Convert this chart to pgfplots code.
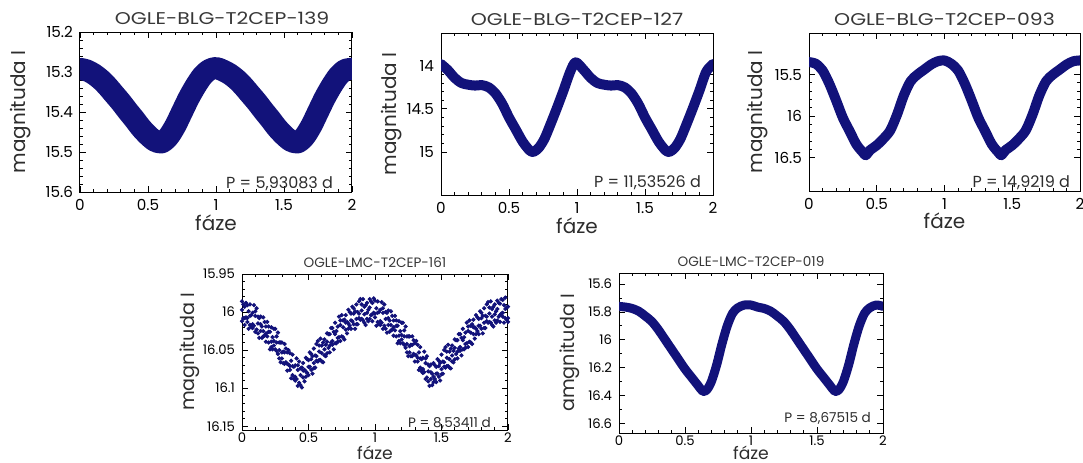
\documentclass[border=0pt]{standalone}
\usepackage{pgfplots}
\pgfplotsset{compat=1.18}
\usepackage{pgfplotstable}
\usepackage{fontspec}
\setmainfont{Poppins}
\newfontfamily\widetitle{Poppins}[FakeStretch=1.2]
\definecolor{navy}{RGB}{18,18,122}
\definecolor{titlegray}{RGB}{55,55,55}
\definecolor{labelgray}{RGB}{45,45,45}

\pgfplotsset{
  panel/.style={
    scale only axis, anchor=south west,
    xmin=0, xmax=2, xtick={0,0.5,1,1.5,2}, minor x tick num=4,
    y dir=reverse, tick align=inside,
    major tick length=3pt, minor tick length=1.6pt,
    every tick/.append style={line width=0.4pt, black},
    axis line style={line width=0.5pt},
    /pgf/number format/assume math mode=true,
    /pgf/number format/fixed,
    /pgf/number format/precision=2,
    xlabel={fáze}, ylabel={magnituda I},
    label style={text=labelgray},
  },
  upper/.style={
    panel,
    every axis title/.style={at={(axis description cs:0.5,1)}, anchor=base, yshift=4pt, text=titlegray, font=\widetitle\fontsize{8.5}{9}\selectfont},
    tick label style={font=\fontsize{7.6}{8}\selectfont},
    label style={font=\fontsize{10}{11}\selectfont},
    xlabel style={at={(axis description cs:0.5,-0.19)}, anchor=center},
  },
  lower/.style={
    panel,
    every axis title/.style={at={(axis description cs:0.5,1)}, anchor=base, yshift=3.5pt, text=titlegray, font=\fontsize{6.8}{7}\selectfont},
    tick label style={font=\fontsize{6.6}{7}\selectfont},
    xticklabel style={inner sep=1.2pt},
    ylabel style={font=\fontsize{9.6}{10}\selectfont},
    xlabel style={font=\fontsize{8.6}{10}\selectfont},
  },
  band/.style={navy, line width=#1, line join=round, line cap=round, smooth},
  dots/.style={only marks, mark=*, mark size=0.85pt, navy},
}

\pgfplotstableread{
x a b c
0.00 16.012 15.997 15.986
0.02 15.993 16.008 16.017
0.04 16.008 15.991 16.013
0.06 15.990 16.017 16.005
0.08 16.016 16.001 16.021
0.10 16.005 16.026 15.999
0.12 16.028 16.015 16.006
0.14 16.006 16.016 16.025
0.16 16.025 16.032 16.007
0.18 16.019 16.039 16.028
0.20 16.040 16.019 16.026
0.22 16.020 16.039 16.046
0.24 16.044 16.022 16.038
0.26 16.040 16.051 16.032
0.28 16.061 16.040 16.050
0.30 16.040 16.053 16.061
0.32 16.068 16.053 16.042
0.34 16.053 16.068 16.077
0.36 16.071 16.054 16.076
0.38 16.056 16.083 16.071
0.40 16.085 16.070 16.090
0.42 16.076 16.097 16.070
0.44 16.096 16.083 16.074
0.46 16.067 16.077 16.086
0.48 16.078 16.085 16.060
0.50 16.063 16.083 16.072
0.52 16.076 16.055 16.062
0.54 16.048 16.067 16.074
0.56 16.064 16.042 16.058
0.58 16.052 16.063 16.044
0.60 16.065 16.044 16.054
0.62 16.036 16.049 16.057
0.64 16.054 16.039 16.028
0.66 16.029 16.044 16.053
0.68 16.038 16.021 16.043
0.70 16.014 16.041 16.029
0.72 16.034 16.019 16.039
0.74 16.017 16.038 16.011
0.76 16.033 16.020 16.011
0.78 16.004 16.014 16.023
0.80 16.015 16.022 15.997
0.82 16.002 16.022 16.011
0.84 16.016 15.995 16.002
0.86 15.990 16.009 16.016
0.88 16.008 15.986 16.002
0.90 15.998 16.009 15.990
0.92 16.014 15.993 16.003
0.94 15.988 16.001 16.009
0.96 16.009 15.994 15.983
0.98 15.988 16.003 16.012
1.00 16.002 15.985 16.007
1.02 15.986 16.013 16.001
1.04 16.012 15.997 16.017
1.06 16.001 16.022 15.995
1.08 16.022 16.009 16.000
1.10 15.998 16.008 16.017
1.12 16.017 16.024 15.999
1.14 16.011 16.031 16.020
1.16 16.032 16.011 16.018
1.18 16.012 16.031 16.038
1.20 16.036 16.014 16.030
1.22 16.032 16.043 16.024
1.24 16.053 16.032 16.042
1.26 16.032 16.045 16.053
1.28 16.058 16.043 16.032
1.30 16.041 16.056 16.065
1.32 16.060 16.043 16.065
1.34 16.046 16.073 16.061
1.36 16.075 16.060 16.080
1.38 16.067 16.088 16.061
1.40 16.091 16.078 16.069
1.42 16.069 16.079 16.088
1.44 16.085 16.092 16.067
1.46 16.072 16.092 16.081
1.48 16.085 16.064 16.071
1.50 16.056 16.075 16.082
1.52 16.072 16.050 16.066
1.54 16.060 16.071 16.052
1.56 16.073 16.052 16.062
1.58 16.044 16.057 16.065
1.60 16.062 16.047 16.036
1.62 16.037 16.052 16.061
1.64 16.046 16.029 16.051
1.66 16.022 16.049 16.037
1.68 16.042 16.027 16.047
1.70 16.025 16.046 16.019
1.72 16.040 16.027 16.018
1.74 16.010 16.020 16.029
1.76 16.022 16.029 16.004
1.78 16.009 16.029 16.018
1.80 16.022 16.001 16.008
1.82 15.995 16.014 16.021
1.84 16.012 15.990 16.006
1.86 16.002 16.013 15.994
1.88 16.017 15.996 16.006
1.90 15.990 16.003 16.011
1.92 16.011 15.996 15.985
1.94 15.989 16.004 16.013
1.96 16.001 15.984 16.006
1.98 15.981 16.008 15.996
2.00 16.008 15.993 16.013
}\tblD

\pgfplotstableread{
x d e
0.01 16.008 15.990
0.03 15.988 16.007
0.05 16.022 15.999
0.07 16.004 16.020
0.09 15.991 16.018
0.11 16.023 15.995
0.13 16.008 16.034
0.15 16.034 16.019
0.17 16.031 16.013
0.19 16.013 16.032
0.21 16.049 16.026
0.23 16.033 16.049
0.25 16.022 16.049
0.27 16.055 16.027
0.29 16.040 16.066
0.31 16.067 16.052
0.33 16.066 16.048
0.35 16.050 16.069
0.37 16.087 16.064
0.39 16.072 16.088
0.41 16.061 16.088
0.43 16.093 16.065
0.45 16.073 16.099
0.47 16.091 16.076
0.49 16.080 16.062
0.51 16.053 16.072
0.53 16.081 16.058
0.55 16.057 16.073
0.57 16.038 16.065
0.59 16.063 16.035
0.61 16.040 16.066
0.63 16.058 16.043
0.65 16.047 16.029
0.67 16.021 16.040
0.69 16.049 16.026
0.71 16.025 16.041
0.73 16.006 16.033
0.75 16.032 16.004
0.77 16.010 16.036
0.79 16.028 16.013
0.81 16.018 16.000
0.83 15.993 16.012
0.85 16.022 15.999
0.87 16.000 16.016
0.89 15.983 16.010
0.91 16.011 15.983
0.93 15.991 16.017
0.95 16.012 15.997
0.97 16.004 15.986
0.99 15.982 16.001
1.01 16.018 15.995
1.03 16.000 16.016
1.05 15.987 16.014
1.07 16.018 15.990
1.09 16.001 16.027
1.11 16.026 16.011
1.13 16.023 16.005
1.15 16.005 16.024
1.17 16.041 16.018
1.19 16.025 16.041
1.21 16.014 16.041
1.23 16.047 16.019
1.25 16.032 16.058
1.27 16.058 16.043
1.29 16.055 16.037
1.31 16.038 16.057
1.33 16.076 16.053
1.35 16.062 16.078
1.37 16.052 16.079
1.39 16.086 16.058
1.41 16.071 16.097
1.43 16.096 16.081
1.45 16.088 16.070
1.47 16.062 16.081
1.49 16.090 16.067
1.51 16.065 16.081
1.53 16.046 16.073
1.55 16.071 16.043
1.57 16.048 16.074
1.59 16.066 16.051
1.61 16.055 16.037
1.63 16.029 16.048
1.65 16.057 16.034
1.67 16.033 16.049
1.69 16.014 16.041
1.71 16.039 16.011
1.73 16.016 16.042
1.75 16.035 16.020
1.77 16.025 16.007
1.79 15.999 16.018
1.81 16.028 16.005
1.83 16.005 16.021
1.85 15.987 16.014
1.87 16.014 15.986
1.89 15.993 16.019
1.91 16.014 15.999
1.93 16.006 15.988
1.95 15.983 16.002
1.97 16.014 15.991
1.99 15.994 16.010
}\tblE

\begin{document}
\begin{tikzpicture}
\useasboundingbox (0,0) rectangle (541.5pt,231pt);

% Panel 1
\begin{axis}[upper, at={(40pt,135pt)}, width=136pt, height=80pt,
  ymin=15.2, ymax=15.6, ytick={15.2,15.3,15.4,15.5,15.6}, minor y tick num=4,
  title={OGLE-BLG-T2CEP-139}, title style={xshift=3pt},
  ylabel style={at={(axis description cs:-0.22,0.5)}, anchor=center}]
\addplot[band=11pt] coordinates {
(0,15.292)(0.05,15.296)(0.1,15.305)(0.15,15.318)(0.2,15.335)(0.25,15.355)(0.3,15.375)(0.35,15.397)(0.4,15.418)(0.45,15.44)(0.5,15.458)(0.55,15.472)(0.6,15.476)(0.65,15.462)(0.7,15.435)(0.75,15.4)(0.8,15.365)(0.85,15.335)(0.9,15.31)(0.95,15.295)(1.0,15.29)
(1.05,15.296)(1.1,15.305)(1.15,15.318)(1.2,15.335)(1.25,15.355)(1.3,15.375)(1.35,15.397)(1.4,15.418)(1.45,15.44)(1.5,15.458)(1.55,15.472)(1.6,15.476)(1.65,15.462)(1.7,15.435)(1.75,15.4)(1.8,15.365)(1.85,15.335)(1.9,15.31)(1.95,15.295)(2.0,15.292)};
\node[anchor=base east, xshift=-6pt, yshift=2pt, font=\fontsize{8}{9}\selectfont, text=labelgray] at (axis description cs:1,0) {P = 5,93083 d};
\end{axis}

% Panel 2
\begin{axis}[upper, at={(220.5pt,133.5pt)}, width=136pt, height=81pt,
  ymin=13.62, ymax=15.5, ytick={14,14.5,15}, minor y tick num=4,
  title={OGLE-BLG-T2CEP-127},
  ylabel style={at={(axis description cs:-0.18,0.5)}, anchor=center}]
\addplot[band=5pt] coordinates {
(0,13.98)(0.05,14.05)(0.1,14.14)(0.15,14.2)(0.2,14.22)(0.25,14.23)(0.3,14.225)(0.35,14.25)(0.4,14.32)(0.45,14.44)(0.5,14.6)(0.55,14.74)(0.6,14.88)(0.65,14.98)(0.68,15.0)(0.72,14.95)(0.76,14.85)(0.8,14.7)(0.85,14.5)(0.9,14.29)(0.95,14.07)(0.99,13.96)
(1.05,14.05)(1.1,14.14)(1.15,14.2)(1.2,14.22)(1.25,14.23)(1.3,14.225)(1.35,14.25)(1.4,14.32)(1.45,14.44)(1.5,14.6)(1.55,14.74)(1.6,14.88)(1.65,14.98)(1.68,15.0)(1.72,14.95)(1.76,14.85)(1.8,14.7)(1.85,14.5)(1.9,14.29)(1.95,14.07)(2.0,13.98)};
\node[anchor=base east, xshift=-2.5pt, yshift=4pt, font=\fontsize{8}{9}\selectfont, text=labelgray] at (axis description cs:1,0) {P = 11,53526 d};
\end{axis}

% Panel 3
\begin{axis}[upper, at={(404.5pt,135.5pt)}, width=135.5pt, height=79pt,
  ymin=15.0, ymax=16.9, ytick={15.5,16,16.5}, minor y tick num=4,
  title={OGLE-BLG-T2CEP-093},
  ylabel style={at={(axis description cs:-0.19,0.5)}, anchor=center}]
\addplot[band=5pt] coordinates {
(0,15.35)(0.05,15.37)(0.1,15.45)(0.15,15.61)(0.2,15.81)(0.25,16.02)(0.3,16.18)(0.35,16.34)(0.4,16.44)(0.42,16.47)(0.45,16.41)(0.5,16.35)(0.55,16.27)(0.6,16.17)(0.65,15.98)(0.7,15.75)(0.75,15.58)(0.8,15.5)(0.85,15.44)(0.9,15.38)(0.95,15.34)(1.0,15.33)
(1.05,15.37)(1.1,15.45)(1.15,15.61)(1.2,15.81)(1.25,16.02)(1.3,16.18)(1.35,16.34)(1.4,16.44)(1.42,16.47)(1.45,16.41)(1.5,16.35)(1.55,16.27)(1.6,16.17)(1.65,15.98)(1.7,15.75)(1.75,15.58)(1.8,15.5)(1.85,15.44)(1.9,15.38)(1.95,15.34)(2.0,15.33)};
\node[anchor=base east, xshift=-1.5pt, yshift=2pt, font=\fontsize{8}{9}\selectfont, text=labelgray] at (axis description cs:1,0) {P = 14,9219 d};
\end{axis}

% Panel 4
\begin{axis}[lower, at={(121pt,16pt)}, width=133pt, height=78pt,
  ymin=15.95, ymax=16.155, ytick={15.95,16,16.05,16.1,16.15}, minor y tick num=4,
  title={OGLE-LMC-T2CEP-161},
  xlabel style={at={(axis description cs:0.5,0)}, anchor=base, yshift=-14.5pt},
  ylabel style={at={(axis description cs:-0.195,0.5)}, anchor=center}]
\addplot[dots] table[x=x, y=a] {\tblD};
\addplot[dots] table[x=x, y=b] {\tblD};
\addplot[dots] table[x=x, y=c] {\tblD};
\addplot[dots] table[x=x, y=d] {\tblE};
\addplot[dots] table[x=x, y=e] {\tblE};
\node[anchor=base east, xshift=-5pt, yshift=1.5pt, font=\fontsize{6.8}{8}\selectfont, text=labelgray] at (axis description cs:1,0) {P = 8,53411 d};
\end{axis}

% Panel 5
\begin{axis}[lower, at={(309.5pt,14.5pt)}, width=132pt, height=80pt,
  ymin=15.52, ymax=16.67, ytick={15.6,15.8,16,16.2,16.4,16.6}, minor y tick num=1,
  title={OGLE-LMC-T2CEP-019}, ylabel={amgnituda I},
  xlabel style={at={(axis description cs:0.5,0)}, anchor=base, yshift=-13pt},
  ylabel style={at={(axis description cs:-0.186,0.5)}, anchor=center}]
\addplot[band=4.5pt] coordinates {
(0,15.76)(0.05,15.765)(0.1,15.775)(0.15,15.795)(0.2,15.83)(0.25,15.87)(0.3,15.93)(0.35,16.0)(0.4,16.07)(0.45,16.14)(0.5,16.21)(0.55,16.27)(0.6,16.33)(0.635,16.37)(0.665,16.36)(0.7,16.3)(0.74,16.18)(0.78,16.03)(0.82,15.9)(0.86,15.81)(0.9,15.77)(0.95,15.75)(1.0,15.75)
(1.05,15.765)(1.1,15.775)(1.15,15.795)(1.2,15.83)(1.25,15.87)(1.3,15.93)(1.35,16.0)(1.4,16.07)(1.45,16.14)(1.5,16.21)(1.55,16.27)(1.6,16.33)(1.635,16.37)(1.665,16.36)(1.7,16.3)(1.74,16.18)(1.78,16.03)(1.82,15.9)(1.86,15.81)(1.9,15.77)(1.95,15.75)(2.0,15.76)};
\node[anchor=base east, xshift=-2.5pt, yshift=5.5pt, font=\fontsize{6.8}{8}\selectfont, text=labelgray] at (axis description cs:1,0) {P = 8,67515 d};
\end{axis}
\end{tikzpicture}
\end{document}
